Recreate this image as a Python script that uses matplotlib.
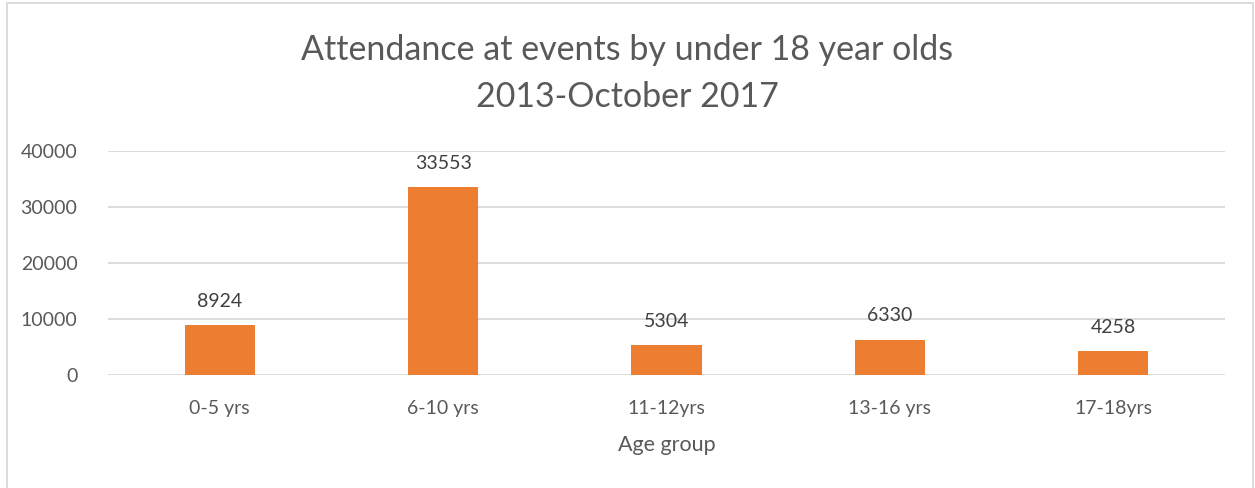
import matplotlib.pyplot as plt
from matplotlib.patches import Rectangle

plt.rcParams['font.family'] = ['Lato', 'DejaVu Sans']

# Attendance counts per age group
age_groups = ["0-5 yrs", "6-10 yrs", "11-12yrs", "13-16 yrs", "17-18yrs"]
attendance = [8924, 33553, 5304, 6330, 4258]

text_color = "#595959"
bar_color = "#ED7D31"
grid_color = "#D9D9D9"

fig = plt.figure(figsize=(12.55, 4.88), dpi=100)
ax = fig.add_axes([108 / 1255, 1 - 375 / 488, (1225 - 108) / 1255, (375 - 151) / 488])

x = range(len(age_groups))
bars = ax.bar(x, attendance, width=0.315, color=bar_color, zorder=3)

# Value labels above each bar
for xi, v in zip(x, attendance):
    ax.annotate(str(v), (xi, v), xytext=(0, 11), textcoords="offset points",
                ha="center", va="bottom", fontsize=14, color="#404040")

ax.set_ylim(0, 40000)
ax.set_xlim(-0.5, len(age_groups) - 0.5)
ax.set_yticks([0, 10000, 20000, 30000, 40000])
ax.set_xticks(list(x))
ax.set_xticklabels(age_groups)
ax.tick_params(axis="both", length=0, labelsize=14, labelcolor=text_color)
ax.tick_params(axis="y", pad=22)
ax.tick_params(axis="x", pad=18)
ax.yaxis.grid(True, color=grid_color, linewidth=1.3, zorder=0)
for s in ax.spines.values():
    s.set_visible(False)

ax.set_xlabel("Age group", fontsize=15.5, color=text_color, labelpad=13)

fig.text(0.5, 1 - 50 / 488, "Attendance at events by under 18 year olds",
         ha="center", va="center", fontsize=24.5, color=text_color)
fig.text(0.5, 1 - 97 / 488, "2013-October 2017",
         ha="center", va="center", fontsize=24.5, color=text_color)

# Light frame around the whole chart
fig.patches.append(Rectangle((7 / 1255, -0.01), 1246 / 1255, 1.01 - 3 / 488,
                             transform=fig.transFigure, fill=False,
                             edgecolor=grid_color, linewidth=1.3))

plt.savefig("out.png", dpi=100)
